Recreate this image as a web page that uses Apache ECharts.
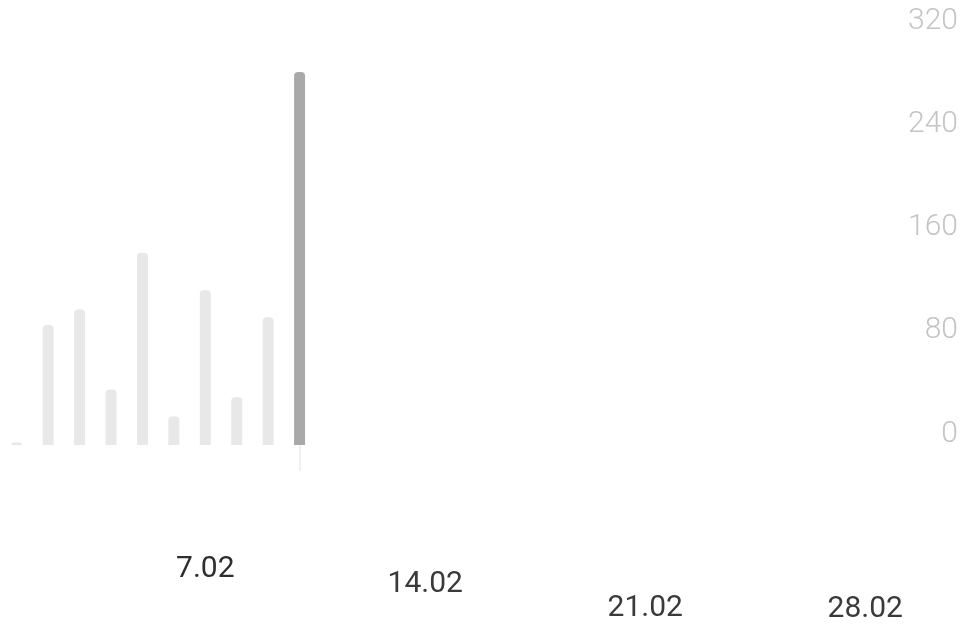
<!DOCTYPE html>
<html>
<head>
<meta charset="utf-8">
<script src="https://cdn.jsdelivr.net/npm/echarts@6/dist/echarts.min.js"></script>
<style>
html,body{margin:0;padding:0;background:#fff;}
#chart{width:962px;height:629px;}
</style>
</head>
<body>
<div id="chart"></div>
<script>
// дни февраля
var days = ['1.02','2.02','3.02','4.02','5.02','6.02','7.02','8.02','9.02','10.02',
    '11.02','12.02','13.02','14.02','15.02','16.02','17.02','18.02','19.02','20.02',
    '21.02','22.02','23.02','24.02','25.02','26.02','27.02','28.02'];
// значения по дням (остальные дни пустые)
var values = [2, 93, 105, 43, 149, 22, 120, 37, 99, 289];
var yTicks = [0, 80, 160, 240, 320];
var shownLabels = ['7.02', '14.02', '21.02', '28.02'];
var activeIndex = 9;

var chart = echarts.init(document.getElementById('chart'));

var option = {
    animation: false,
    backgroundColor: '#fff',
    grid: {
        left: 1,
        right: 81,
        top: 32,
        bottom: 184
    },
    xAxis: {
        type: 'category',
        data: days,
        axisLine: { show: false },
        axisTick: {
            show: true,
            alignWithLabel: true,
            interval: function (index) { return index === activeIndex; },
            length: 26,
            lineStyle: { color: '#f0f0f0', width: 2 }
        },
        axisLabel: {
            interval: function (index, value) { return shownLabels.indexOf(value) >= 0; },
            margin: 109,
            color: '#333',
            fontFamily: 'Roboto',
            fontSize: 30,
            formatter: function (value) {
                //照片里标签高低不齐
                var k = shownLabels.indexOf(value);
                return '{l' + k + '|' + value + '}';
            },
            rich: {
                l0: { padding: [0, 0, 0, 0], fontSize: 30, color: '#2e2e2e' },
                l1: { padding: [15, 0, 0, 0], fontSize: 30, color: '#3a3a3a' },
                l2: { padding: [39, 0, 0, 0], fontSize: 30, color: '#3a3a3a' },
                l3: { padding: [40, 0, 0, 0], fontSize: 30, color: '#3a3a3a' }
            }
        },
        splitLine: { show: false }
    },
    yAxis: {
        type: 'value',
        position: 'right',
        min: yTicks[0],
        max: yTicks[yTicks.length - 1],
        interval: yTicks[1] - yTicks[0],
        axisLine: { show: false },
        axisTick: { show: false },
        splitLine: { show: false },
        axisLabel: {
            margin: 77,
            align: 'right',
            verticalAlign: 'bottom',
            lineHeight: 22,
            color: '#c4c4c4',
            fontFamily: 'Roboto',
            fontWeight: 300,
            fontSize: 30
        }
    },
    series: [{
        type: 'bar',
        data: values,
        barWidth: 11,
        itemStyle: {
            color: function (params) {
                return params.dataIndex === activeIndex ? '#a9a9a9' : '#e8e8e8';
            },
            borderRadius: [4, 4, 0, 0]
        }
    }]
};
chart.setOption(option);
</script>
</body>
</html>
